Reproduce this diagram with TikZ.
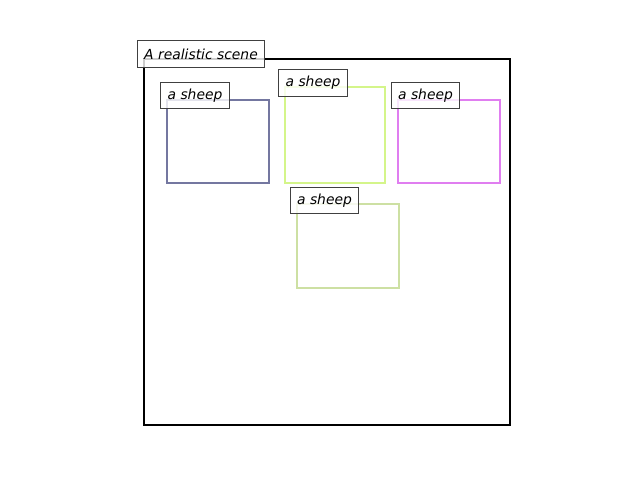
\documentclass[tikz,border=0pt]{standalone}
\usepackage{fontspec}
\setmainfont{DejaVu Sans}
\begin{document}
\begin{tikzpicture}[x=0.75pt,y=-0.75pt,
  lbl/.style={draw=black!75,line width=0.75pt,fill=white,fill opacity=0.8,text opacity=1,
    anchor=north west,inner sep=0pt,align=center,
    font=\fontsize{10.4}{12}\selectfont\itshape},
  sheepbox/.style={line width=1.8pt,line join=miter}]
\useasboundingbox[fill=white] (0,0) rectangle (640,480);
\definecolor{c1}{HTML}{7477A0}
\definecolor{c2}{HTML}{D4F58A}
\definecolor{c3}{HTML}{E07EF0}
\definecolor{c4}{HTML}{CDE0A3}
\draw[line width=1.7pt,black] (144,59) rectangle (510,425);
\draw[sheepbox,c1] (167,100) rectangle (269,183);
\draw[sheepbox,c2] (285,87) rectangle (385,183);
\draw[sheepbox,c3] (398,100) rectangle (500,183);
\draw[sheepbox,c4] (297,204) rectangle (399,288);
\node[lbl,minimum width=95.25pt,minimum height=20.25pt] (title) at (137,40) {A realistic scene};
\node[lbl,minimum width=51.75pt,minimum height=19.5pt] (l1) at (160,82) {a sheep};
\node[lbl,minimum width=51.75pt,minimum height=20.25pt] (l2) at (278,69) {a sheep};
\node[lbl,minimum width=51pt,minimum height=19.5pt] (l3) at (391,82) {a sheep};
\node[lbl,minimum width=51pt,minimum height=19.5pt] (l4) at (290,187) {a sheep};
\end{tikzpicture}
\end{document}
